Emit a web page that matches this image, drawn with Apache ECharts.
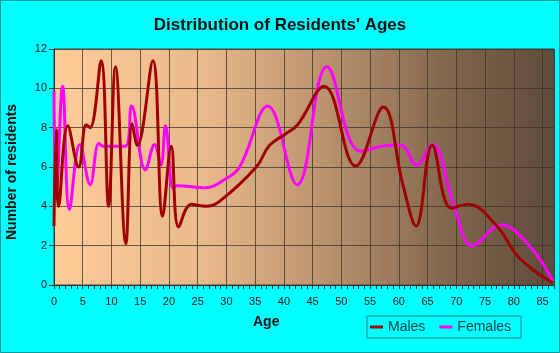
<!DOCTYPE html>
<html><head><meta charset="utf-8">
<script src="https://cdn.jsdelivr.net/npm/echarts@6/dist/echarts.min.js"></script>
<style>html,body{margin:0;padding:0;background:#00FFFF}#c{width:560px;height:353px}</style>
</head><body><div id="c"></div>
<script>
// Data: [age, number of residents]
const malesAges   = [0,0.4,0.8,2.4,4.3,5.6,6.3,8.2,9.5,10.7,12.5,13.6,14.5,17.2,18.9,20.4,21.7,23.9,26.5,28.8,35.2,37.5,40.4,42.4,47.0,52.5,57.3,60.7,63.0,65.8,69.1,72.0,76.9,81.0,86.8];
const malesVals   = [3.0,7.9,4.0,8.1,6.0,8.15,8.0,11.4,4.0,11.1,2.1,8.2,7.1,11.4,3.5,7.05,2.95,4.1,4.0,4.25,6.0,7.1,7.7,8.15,10.1,6.05,9.05,5.1,3.0,7.1,3.9,4.1,3.05,1.36,0.1];
const femalesAges = [0,0.4,1.5,2.7,4.5,6.3,7.8,8.6,12.4,13.5,15.9,17.5,18.6,19.4,20.7,21.3,26.5,29.6,32.3,37.2,42.3,47.5,53.4,58.4,60.4,63.1,65.8,69.7,72.8,77.8,82.7,86.8];
const femalesVals = [9.85,4.4,10.1,3.85,7.15,5.1,7.2,7.05,7.05,9.1,5.85,7.15,6.1,8.1,4.9,5.05,4.95,5.35,6.0,9.1,5.1,11.1,6.8,7.1,7.1,6.1,7.15,3.9,2.0,3.05,2.0,0.2];
const xTicks = [0,5,10,15,20,25,30,35,40,45,50,55,60,65,70,75,80,85];
const yTicks = [0,2,4,6,8,10,12];

const zip = (a,b)=>a.map((v,i)=>[v,b[i]]);
const FONT = 'Arial, Liberation Sans';
const chart = echarts.init(document.getElementById('c'));
chart.setOption({
  backgroundColor:'#00FFFF',
  animation:false,
  title:{text:"Distribution of Residents' Ages",left:'center',top:12,
    textStyle:{fontFamily:FONT,fontWeight:'bold',fontSize:17,color:'#111'}},
  graphic:[
    {type:'rect',shape:{x:0.5,y:0.5,width:559,height:352},style:{fill:'none',stroke:'#009A9A',lineWidth:1},silent:true},
    {type:'text',left:253,top:315,style:{text:'Age',font:'bold 14px '+FONT,fill:'#111'}},
    {type:'text',x:5,y:240,rotation:Math.PI/2,style:{text:'Number of residents',font:'bold 14px '+FONT,fill:'#111',textVerticalAlign:'top'}}
  ],
  grid:{left:54,top:49,width:500,height:236,show:true,borderColor:'#444',borderWidth:1,
    backgroundColor:new echarts.graphic.LinearGradient(0,0,1,0,[
      {offset:0,color:'#FFCC99'},{offset:0.3,color:'#E8B98A'},{offset:0.55,color:'#B8916D'},{offset:0.8,color:'#7F654C'},{offset:1,color:'#5E4B3B'}])},
  legend:{left:367,top:316,orient:'horizontal',itemGap:14,icon:'rect',itemWidth:13,itemHeight:3,
    borderColor:'#008B8B',borderWidth:1,padding:[4,10,4,3],
    textStyle:{fontFamily:FONT,fontSize:14,color:'#114444'},
    data:['Males','Females']},
  xAxis:{type:'value',min:0,max:87,interval:5,
    axisLine:{show:true,lineStyle:{color:'#333'}},
    axisTick:{show:true,length:4,lineStyle:{color:'#333'}},
    minorTick:{show:true,splitNumber:5,length:4,lineStyle:{color:'#333'}},
    axisLabel:{fontFamily:FONT,fontSize:11,color:'#222',margin:11,
      formatter:v=>xTicks.includes(v)?String(v):''},
    splitLine:{show:true,lineStyle:{color:'rgba(60,50,40,0.75)',width:1}}},
  yAxis:{type:'value',min:0,max:12,interval:2,
    axisLine:{show:true,lineStyle:{color:'#333'}},
    axisTick:{show:true,length:5,lineStyle:{color:'#333'}},
    axisLabel:{fontFamily:FONT,fontSize:11,color:'#222',margin:7,
      formatter:v=>yTicks.includes(v)?String(v):''},
    splitLine:{show:true,lineStyle:{color:'rgba(60,50,40,0.75)',width:1}}},
  series:[
    {name:'Males',type:'line',smooth:0.4,showSymbol:false,data:zip(malesAges,malesVals),
      lineStyle:{color:'#A00000',width:3},itemStyle:{color:'#A00000'},z:3},
    {name:'Females',type:'line',smooth:0.4,showSymbol:false,data:zip(femalesAges,femalesVals),
      lineStyle:{color:'#FF00FF',width:3},itemStyle:{color:'#FF00FF'},z:2}
  ]
});
</script></body></html>
